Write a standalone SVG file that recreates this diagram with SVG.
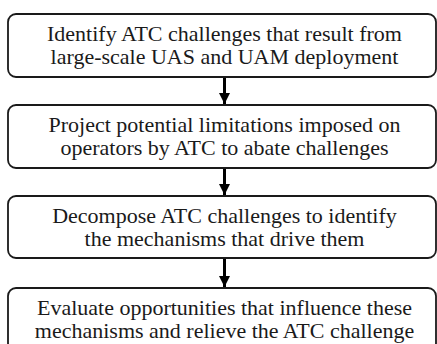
<svg xmlns="http://www.w3.org/2000/svg" width="437" height="344" viewBox="0 0 437 344">
<defs>
<style>
.box{fill:#fff;stroke:#1a1a1a;stroke-width:1.8}
.t{font-family:'Liberation Serif','Times New Roman',serif;font-size:22px;fill:#1a1a1a;text-anchor:middle}
.c{stroke:#000;stroke-width:3;fill:none}
</style>
<marker id="ah" viewBox="0 0 10 10" refX="10" refY="5" markerUnits="userSpaceOnUse" markerWidth="13" markerHeight="11" orient="auto">
<path d="M0,0 L10,5 L0,10 Z" fill="#000"/>
</marker>
</defs>
<rect width="437" height="344" fill="#fff"/>
<g id="n1">
<rect class="box" x="8" y="14" width="428" height="63" rx="8"/>
<text class="t" x="224.5" y="41">Identify ATC challenges that result from</text>
<text class="t" x="224.5" y="64">large-scale UAS and UAM deployment</text>
</g>
<g id="n2">
<rect class="box" x="8" y="105" width="428" height="63" rx="8"/>
<text class="t" x="224.5" y="132">Project potential limitations imposed on</text>
<text class="t" x="224.5" y="155">operators by ATC to abate challenges</text>
</g>
<g id="n3">
<rect class="box" x="8" y="196" width="428" height="62" rx="8"/>
<text class="t" x="224.5" y="223">Decompose ATC challenges to identify</text>
<text class="t" x="224.5" y="246">the mechanisms that drive them</text>
</g>
<g id="n4">
<rect class="box" x="8" y="288" width="428" height="63" rx="8"/>
<text class="t" x="224.5" y="315">Evaluate opportunities that influence these</text>
<text class="t" x="224.5" y="338">mechanisms and relieve the ATC challenge</text>
</g>
<g id="connectors">
<line class="c" x1="224.5" y1="78" x2="224.5" y2="104" marker-end="url(#ah)"/>
<line class="c" x1="224.5" y1="169" x2="224.5" y2="195" marker-end="url(#ah)"/>
<line class="c" x1="224.5" y1="259" x2="224.5" y2="287" marker-end="url(#ah)"/>
</g>
</svg>
